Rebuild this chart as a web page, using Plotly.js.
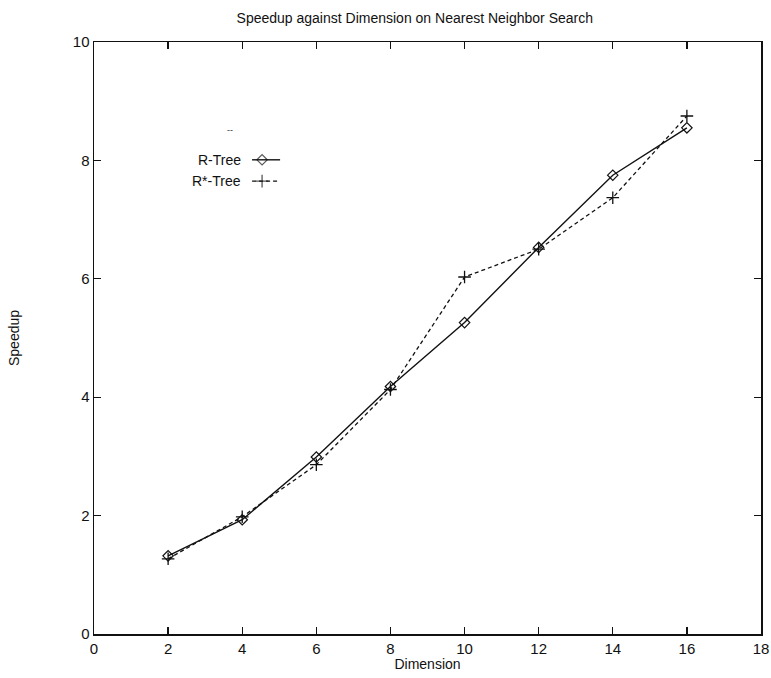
<!DOCTYPE html>
<html>
<head>
<meta charset="utf-8">
<script src="https://cdn.plot.ly/plotly-3.0.1.min.js"></script>
<style>
  html, body { margin: 0; padding: 0; background: #fff; }
  #chart { width: 771px; height: 678px; }
</style>
</head>
<body>
<div id="chart"></div>
<script>
// Speedup of nearest neighbour search as the dimension grows
const dimensions = [2, 4, 6, 8, 10, 12, 14, 16];
const rTreeSpeedup = [1.32, 1.93, 2.99, 4.18, 5.26, 6.53, 7.75, 8.55];
const rStarTreeSpeedup = [1.27, 1.98, 2.86, 4.13, 6.03, 6.50, 7.37, 8.75];
const seriesNames = ['R-Tree', 'R*-Tree'];
const xTicks = [0, 2, 4, 6, 8, 10, 12, 14, 16, 18];
const yTicks = [0, 2, 4, 6, 8, 10];

const font = { family: 'Liberation Sans, Arial, sans-serif', color: '#111', size: 14 };
const tickFont = { family: font.family, color: '#111', size: 15 };

// Key placement (paper fractions) in gnuplot style: label first, then sample
const keyRows = [0.801, 0.765];
const keyLabelX = 0.223;
const keySampleX = [0.237, 0.252, 0.279];

const traces = [
  {
    x: dimensions, y: rTreeSpeedup, name: seriesNames[0],
    mode: 'lines+markers', showlegend: false,
    line: { color: '#111', width: 1.4 },
    marker: { symbol: 'diamond-open', size: 8, color: '#111', line: { width: 1.2 } }
  },
  {
    x: dimensions, y: rStarTreeSpeedup, name: seriesNames[1],
    mode: 'lines+markers', showlegend: false,
    line: { color: '#111', width: 1.3, dash: '4px,3px' },
    marker: { symbol: 'cross-thin-open', size: 9, color: '#111', line: { width: 1.3, color: '#111' } }
  },
  // key samples, drawn on a hidden 0..1 overlay axis
  {
    x: keySampleX, y: [keyRows[0], keyRows[0], keyRows[0]],
    xaxis: 'x2', yaxis: 'y2', mode: 'lines+markers', showlegend: false, hoverinfo: 'skip',
    line: { color: '#111', width: 1.4 },
    marker: { symbol: 'diamond-open', size: [0, 8, 0], color: '#111', line: { width: 1.2 } }
  },
  {
    x: keySampleX, y: [keyRows[1], keyRows[1], keyRows[1]],
    xaxis: 'x2', yaxis: 'y2', mode: 'lines+markers', showlegend: false, hoverinfo: 'skip',
    line: { color: '#111', width: 1.3, dash: '4px,3px' },
    marker: { symbol: 'cross-thin-open', size: [0, 9, 0], color: '#111', line: { width: 1.3, color: '#111' } }
  }
];

const axisCommon = {
  showgrid: false, zeroline: false, showline: true, mirror: 'ticks',
  linecolor: '#111', linewidth: 1.5,
  ticks: 'inside', ticklen: 7, tickwidth: 1.3, tickcolor: '#111',
  tickfont: tickFont, ticklabeloverflow: 'allow'
};

const layout = {
  width: 771, height: 678,
  margin: { l: 94, r: 10, t: 42, b: 44 },
  paper_bgcolor: '#fff', plot_bgcolor: '#fff',
  font: font,
  title: {
    text: 'Speedup against Dimension on Nearest Neighbor Search',
    font: { family: font.family, size: 14, color: '#111' },
    x: 0.538, xanchor: 'center', y: 0.973, yanchor: 'middle'
  },
  xaxis: Object.assign({}, axisCommon, {
    range: [0, 18], tickvals: xTicks, ticktext: xTicks.map(String),
    title: { text: 'Dimension', font: font, standoff: 2 }
  }),
  yaxis: Object.assign({}, axisCommon, {
    range: [0, 10], tickvals: yTicks, ticktext: yTicks.map(String),
    title: { text: 'Speedup', font: font, standoff: 50 }
  }),
  xaxis2: { overlaying: 'x', range: [0, 1], visible: false, fixedrange: true },
  yaxis2: { overlaying: 'y', range: [0, 1], visible: false, fixedrange: true },
  annotations: [
    { text: seriesNames[0], xref: 'paper', yref: 'paper', x: keyLabelX, y: keyRows[0],
      xanchor: 'right', yanchor: 'middle', showarrow: false, font: font },
    { text: seriesNames[1], xref: 'paper', yref: 'paper', x: keyLabelX, y: keyRows[1],
      xanchor: 'right', yanchor: 'middle', showarrow: false, font: font },
    { text: '--', xref: 'paper', yref: 'paper', x: 0.204, y: 0.851,
      xanchor: 'center', yanchor: 'middle', showarrow: false,
      font: { family: font.family, size: 9, color: '#333' } }
  ]
};

Plotly.newPlot('chart', traces, layout, { displayModeBar: false, staticPlot: true });
</script>
</body>
</html>
